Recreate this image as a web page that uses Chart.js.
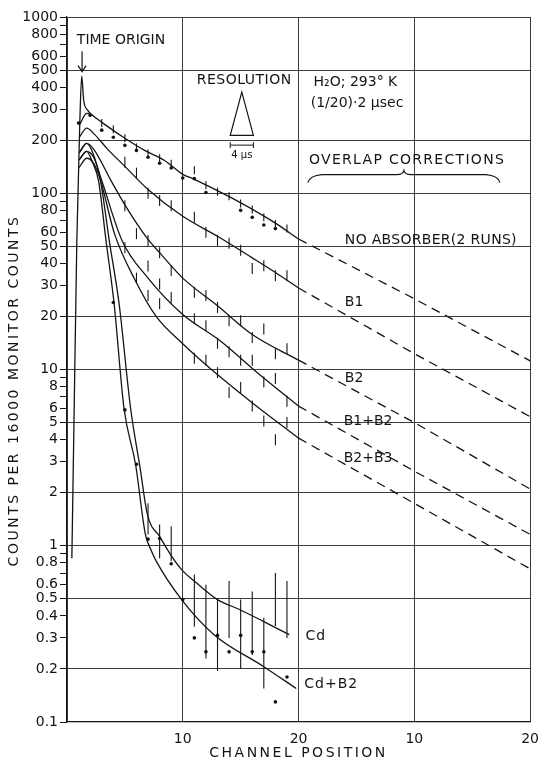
<!DOCTYPE html>
<html>
<head>
<meta charset="utf-8">
<script src="https://cdn.jsdelivr.net/npm/chart.js@4.4.0/dist/chart.umd.min.js"></script>
<style>
html,body{margin:0;padding:0;background:#fff}
canvas{display:block}
</style>
</head>
<body>
<canvas id="grafico" width="548" height="765"></canvas>
<script>
// axes: channel 0..40 (two 20-channel panels), counts 0.1..1000
const xTicks=[0,10,20,30,40]
const xTickLabels=['','10','20','10','20']
const yTicks=[0.1,0.2,0.3,0.4,0.5,0.6,0.7,0.8,0.9,1,2,3,4,5,6,7,8,9,10,20,30,40,50,60,70,80,90,100,200,300,400,500,600,700,800,900,1000]
const yLabelled=[0.1,0.2,0.3,0.4,0.5,0.6,0.8,1,2,3,4,5,6,8,10,20,30,40,50,60,80,100,200,300,400,500,600,800,1000]
const yGrid=[0.2,0.5,1,2,5,10,20,50,100,200,500,1000]

// fitted curves [channel, counts]
let noAbsorber=[[0.42,0.85],[0.6,4.9],[0.85,54],[1.1,244],[1.27,461],[1.44,337],[1.78,296],[2.2,277],[3.1,250],[5,205],[6.7,175],[8.4,154],[10,128],[11,120],[14.1,95],[17.2,73],[18.1,67],[20,55]]
let noAbsorberRun2=[[1.08,244],[1.7,284],[2.2,277]]
let b1=[[1.07,208],[1.7,234],[2.4,215],[3.5,178],[5,142],[7,105],[10,74],[13,57],[16,43],[18,35.5],[20,29]]
let b2=[[1.06,170],[1.7,192],[2.3,178],[3.8,118],[5,86],[6.8,57],[8,46],[10,33],[13,23],[16,15.8],[20,11.3]]
let b1b2=[[1.05,155],[1.7,173],[2.3,160],[3.0,118],[4.75,54],[7,33],[10,20.5],[13.2,14.6],[16.6,9.4],[20,6.2]]
let b2b3=[[1.04,140],[1.7,158],[2.3,148],[2.9,118],[4.1,59],[5.9,32],[7.7,20],[10,14],[12.4,10.1],[16.1,6.4],[20,4.08]]
let cd=[[1.06,170],[1.7,192],[2.25,168],[2.89,118],[3.65,53.9],[4.5,23.6],[5.49,6.05],[6.3,2.8],[6.95,1.5],[8,1.13],[9,0.88],[10,0.72],[11.04,0.627],[13,0.495],[14.9,0.435],[17,0.371],[19.2,0.313]]
let cdB2=[[1.05,155],[1.7,173],[2.2,150],[2.72,118],[3.37,53.9],[4.07,23.6],[4.92,6.05],[5.92,2.9],[6.77,1.16],[7.2,0.966],[7.72,0.815],[9.85,0.5],[12.7,0.313],[17,0.206],[19.8,0.155]]

// overlap corrections, channels 20, 30, 40
let tailCh=[20,30,40]
let tailNoAbsorber=[55,25.2,11.2]
let tailB1=[29,12.3,5.4]
let tailB2=[11.3,5.0,2.1]
let tailB1B2=[6.2,2.65,1.16]
let tailB2B3=[4.08,1.74,0.74]

// measured points
let noAbsDotCh=[1,2,3,4,5,6,7,8,9,10,11,12,15,16,17,18]
let noAbsDot=[250,277,228,208,187,175,160,148,139,122,121,101,80,73,66,63]
let noAbsRun2Ch=[3,4,5,6,7,8,9,11,12,13,14,15,16,17,18,19]
let noAbsRun2=[250,231,205,182,168,158,147,135,111,102,96,87.5,81,73,67,63]
let b1Ch=[5,6,7,8,9,11,12,13,14,15,16,17,18,19]
let b1Pts=[150,130,100,91,85,73,60,54,52,47.5,37.4,38.8,34,34]
let b2Ch=[5,6,7,8,9,11,12,13,14,15,16,17,18,19]
let b2Pts=[85,59,54,46,36.5,27.4,26.3,22.5,18.9,18.9,15.2,17,12.3,13.1]
let b1b2Ch=[5,7,8,9,11,12,13,14,15,16,17,18,19]
let b1b2Pts=[49,38.6,30.6,25.6,19.4,17.7,14.1,12.6,11.3,11.3,8.5,8.9,6.6]
let b2b3Ch=[6,7,8,11,12,13,14,15,16,17,18,19]
let b2b3Pts=[33,26.3,23.6,11.6,11.3,9.6,7.4,7.9,6.2,5.1,4.0,5.0]
let cdDotCh=[4,5,6,7,8,9,10,11,12,13,14,15,16,17,18,19]
let cdDot=[24,5.9,2.9,1.09,1.1,0.79,0.495,0.30,0.25,0.31,0.25,0.31,0.25,0.25,0.13,0.18]
let cdBarCh=[7,8,9,11,12,13,14,15,16,17,18,19]
let cdBarLo=[1.16,0.85,0.82,0.347,0.229,0.195,0.30,0.20,0.24,0.155,0.35,0.30]
let cdBarHi=[1.74,1.32,1.29,0.687,0.60,0.50,0.63,0.495,0.55,0.39,0.70,0.63]

const tinta='#141414'
Chart.defaults.font.family="'DejaVu Sans', sans-serif"
Chart.defaults.color=tinta

function linha(pts){
    return {data:pts.map(p=>({x:p[0],y:p[1]})),showLine:true,pointRadius:0,borderColor:tinta,borderWidth:1.3,cubicInterpolationMode:'monotone'}
}
function tracejada(vals){
    return {data:tailCh.map((c,i)=>({x:c,y:vals[i]})),showLine:true,pointRadius:0,borderColor:tinta,borderWidth:1.3,borderDash:[9,6]}
}
function pontos(ch,vals){
    return {data:ch.map((c,i)=>({x:c,y:vals[i]})),showLine:false,pointRadius:1.8,pointBackgroundColor:tinta,pointBorderWidth:0}
}
function tracos(ch,vals,r){
    return {data:ch.map((c,i)=>({x:c,y:vals[i]})),showLine:false,pointStyle:'line',rotation:90,pointRadius:r,pointBorderColor:tinta,pointBorderWidth:1.1}
}

// long error bars of the cadmium runs
const barras={
    id:'barras',
    afterDatasetsDraw(chart){
        const {ctx,scales:{x,y}}=chart
        ctx.save()
        ctx.strokeStyle=tinta
        ctx.lineWidth=1.1
        for(let i=0;i<cdBarCh.length;i++){
            const px=x.getPixelForValue(cdBarCh[i])
            ctx.beginPath()
            ctx.moveTo(px,y.getPixelForValue(cdBarLo[i]))
            ctx.lineTo(px,y.getPixelForValue(cdBarHi[i]))
            ctx.stroke()
        }
        ctx.restore()
    }
}

// lettering, arrow, resolution triangle, brace, axis titles
const anotacoes={
    id:'anotacoes',
    afterDraw(chart){
        const {ctx,scales:{x,y},chartArea}=chart
        const X=c=>x.getPixelForValue(c), Y=v=>y.getPixelForValue(v)
        ctx.save()
        ctx.fillStyle=tinta
        ctx.strokeStyle=tinta
        ctx.lineWidth=1.2
        ctx.textBaseline='middle'
        function texto(s,c,v,size,esp){
            ctx.font=size+"px 'DejaVu Sans'"
            ctx.letterSpacing=(esp||0)+'px'
            ctx.textAlign='left'
            ctx.fillText(s,X(c),Y(v))
        }
        texto('TIME ORIGIN',0.85,740,14)
        texto('RESOLUTION',11.2,438,14,0.5)
        texto('H\u2082O; 293\u00B0 K',21.3,427,14)
        texto('(1/20)\u00B72 \u00B5sec',21.05,324,14)
        texto('OVERLAP CORRECTIONS',20.9,154,14,1.3)
        texto('NO ABSORBER(2 RUNS)',24,54,14,0.3)
        texto('B1',24,23.9,14)
        texto('B2',24,8.96,14)
        texto('B1+B2',23.9,5.1,14)
        texto('B2+B3',23.9,3.14,14)
        texto('Cd',20.6,0.305,14,1)
        texto('Cd+B2',20.5,0.163,14,1)

        // time origin arrow
        const ax=X(1.3)
        ctx.beginPath()
        ctx.moveTo(ax,Y(640)); ctx.lineTo(ax,Y(490))
        ctx.moveTo(ax-4,Y(490)-6); ctx.lineTo(ax,Y(490)); ctx.lineTo(ax+4,Y(490)-6)
        ctx.stroke()

        // resolution triangle and 4 us bracket
        ctx.beginPath()
        ctx.moveTo(X(15.1),Y(375)); ctx.lineTo(X(16.1),Y(213)); ctx.lineTo(X(14.1),Y(213)); ctx.closePath()
        ctx.stroke()
        const by=Y(187.5)
        ctx.lineWidth=1
        ctx.beginPath()
        ctx.moveTo(X(14.1),by); ctx.lineTo(X(16.1),by)
        ctx.moveTo(X(14.1),by-3); ctx.lineTo(X(14.1),by+3)
        ctx.moveTo(X(16.1),by-3); ctx.lineTo(X(16.1),by+3)
        ctx.stroke()
        ctx.font="10px 'DejaVu Sans'"
        ctx.letterSpacing='0px'
        ctx.textAlign='center'
        ctx.fillText('4 \u00B5s',X(15.1),Y(164))

        // brace over the overlap region
        const bx0=X(20.8), bx1=X(37.4), bm=(bx0+bx1)/2, bb=Y(115)
        ctx.lineWidth=1.2
        ctx.beginPath()
        ctx.moveTo(bx0,bb)
        ctx.quadraticCurveTo(bx0+2,bb-7,bx0+14,bb-8)
        ctx.lineTo(bm-7,bb-8)
        ctx.quadraticCurveTo(bm-1,bb-8,bm,bb-12)
        ctx.quadraticCurveTo(bm+1,bb-8,bm+7,bb-8)
        ctx.lineTo(bx1-14,bb-8)
        ctx.quadraticCurveTo(bx1-2,bb-7,bx1,bb)
        ctx.stroke()

        // axis titles
        ctx.font="14px 'DejaVu Sans'"
        ctx.letterSpacing='2.5px'
        ctx.textAlign='center'
        ctx.fillText('CHANNEL POSITION',X(20),chart.height-12)
        ctx.translate(14,(chartArea.top+chartArea.bottom)/2+21)
        ctx.rotate(-Math.PI/2)
        ctx.fillText('COUNTS PER 16000 MONITOR COUNTS',0,0)
        ctx.restore()
    }
}

const perto=(a,b)=>Math.abs(a-b)<1e-9*Math.max(1,b)

new Chart(document.getElementById('grafico'),{
    type:'scatter',
    data:{datasets:[
        linha(noAbsorber),linha(noAbsorberRun2),linha(b1),linha(b2),linha(b1b2),linha(b2b3),linha(cd),linha(cdB2),
        tracejada(tailNoAbsorber),tracejada(tailB1),tracejada(tailB2),tracejada(tailB1B2),tracejada(tailB2B3),
        pontos(noAbsDotCh,noAbsDot),tracos(noAbsRun2Ch,noAbsRun2,4),
        tracos(b1Ch,b1Pts,5.5),tracos(b2Ch,b2Pts,5.5),tracos(b1b2Ch,b1b2Pts,5.5),tracos(b2b3Ch,b2b3Pts,5.5),
        pontos(cdDotCh,cdDot)
    ]},
    options:{
        responsive:false,
        animation:false,
        events:[],
        layout:{padding:{top:17,right:10,left:0,bottom:0}},
        plugins:{legend:{display:false},tooltip:{enabled:false}},
        scales:{
            x:{
                type:'linear',min:0,max:40,
                afterBuildTicks:s=>{s.ticks=xTicks.map(v=>({value:v}))},
                afterFit:s=>{s.height=43},
                grid:{color:'#3c3c3c',lineWidth:1,drawTicks:false},
                border:{color:tinta,width:1.2},
                ticks:{padding:9,maxRotation:0,autoSkip:false,font:{size:14},
                    callback:v=>xTickLabels[xTicks.indexOf(v)]}
            },
            y:{
                type:'logarithmic',min:0.1,max:1000,
                afterBuildTicks:s=>{s.ticks=yTicks.map(v=>({value:v}))},
                afterFit:s=>{s.width=67},
                grid:{
                    color:c=>(c.tick&&yGrid.some(g=>perto(c.tick.value,g)))?'#3c3c3c':'rgba(0,0,0,0)',
                    tickColor:tinta,tickLength:7,lineWidth:1
                },
                border:{color:tinta,width:1.2},
                ticks:{autoSkip:false,padding:2,font:{size:14},
                    callback:v=>yLabelled.some(g=>perto(v,g))?(v<1?v.toFixed(1):String(v)):''}
            }
        }
    },
    plugins:[barras,anotacoes]
})
</script>
</body>
</html>
